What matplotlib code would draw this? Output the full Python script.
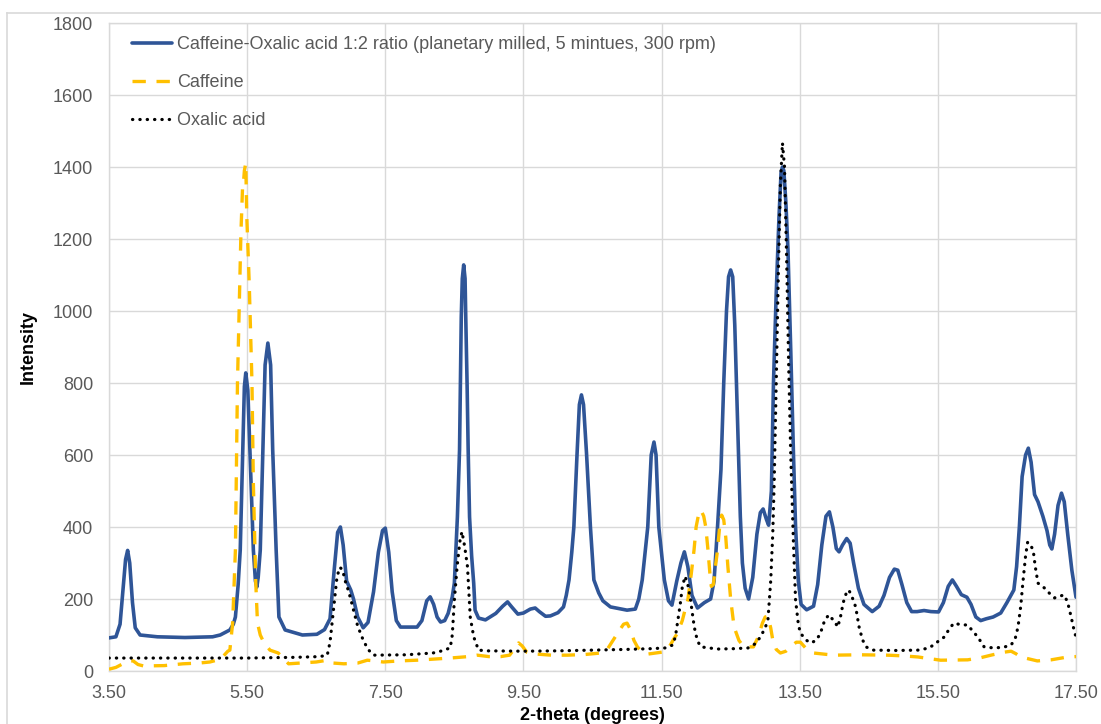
import matplotlib
matplotlib.use("Agg")
import matplotlib.pyplot as plt
from matplotlib.lines import Line2D

# ---------------- data ----------------
mix_x = [3.50, 3.60, 3.66, 3.70, 3.74, 3.77, 3.80, 3.84, 3.88, 3.95, 4.20, 4.60, 5.00, 5.11, 5.25,
         5.30, 5.33, 5.37, 5.40, 5.436, 5.46, 5.48, 5.51, 5.54, 5.59, 5.62, 5.64, 5.66, 5.69, 5.727,
         5.76, 5.80, 5.84, 5.87, 5.92, 5.96, 6.05, 6.30, 6.51, 6.62, 6.70, 6.76, 6.81, 6.85, 6.89,
         6.94, 7.00, 7.04, 7.10, 7.18, 7.25, 7.33, 7.40, 7.46, 7.50, 7.55, 7.60, 7.66, 7.72, 7.96,
         8.03, 8.10, 8.15, 8.20, 8.25, 8.30, 8.36, 8.41, 8.47, 8.50, 8.52, 8.544, 8.575, 8.587, 8.60,
         8.615, 8.635, 8.655, 8.665, 8.684, 8.70, 8.72, 8.75, 8.78, 8.80, 8.85, 8.95, 9.10, 9.20, 9.27,
         9.33, 9.42, 9.50, 9.60, 9.67, 9.73, 9.82, 9.89, 10.00, 10.08, 10.12, 10.16, 10.20, 10.23, 10.277,
         10.31, 10.34, 10.37, 10.413, 10.47, 10.52, 10.59, 10.65, 10.76, 11.00, 11.12, 11.17, 11.22, 11.30, 11.35,
         11.39, 11.42, 11.46, 11.54, 11.60, 11.65, 11.72, 11.78, 11.83, 11.88, 11.94, 12.02, 12.12, 12.21, 12.26,
         12.31, 12.36, 12.40, 12.44, 12.47, 12.50, 12.53, 12.56, 12.60, 12.64, 12.67, 12.71, 12.76, 12.82, 12.88,
         12.93, 12.97, 13.02, 13.05, 13.09, 13.12, 13.16, 13.20, 13.23, 13.25, 13.27, 13.30, 13.33, 13.37, 13.41,
         13.44, 13.48, 13.52, 13.60, 13.70, 13.76, 13.82, 13.88, 13.93, 13.98, 14.03, 14.07, 14.12, 14.18, 14.23,
         14.28, 14.35, 14.43, 14.55, 14.65, 14.72, 14.80, 14.87, 14.92, 14.98, 15.05, 15.12, 15.20, 15.30, 15.40,
         15.51, 15.58, 15.65, 15.71, 15.77, 15.84, 15.92, 15.98, 16.05, 16.12, 16.20, 16.30, 16.41, 16.50, 16.60,
         16.64, 16.68, 16.72, 16.77, 16.81, 16.85, 16.90, 16.95, 17.02, 17.08, 17.12, 17.15, 17.19, 17.24, 17.29,
         17.33, 17.38, 17.44, 17.50]
mix_y = [92, 95, 130, 220, 310, 335, 300, 190, 120, 100, 95, 93, 95, 100, 114,
         130, 150, 240, 336, 614, 790, 828, 780, 614, 336, 250, 233, 260, 336, 614,
         850, 911, 850, 614, 336, 150, 114, 100, 102, 115, 145, 280, 385, 400, 350,
         250, 225, 200, 150, 120, 135, 220, 330, 390, 397, 330, 220, 140, 122, 122,
         140, 195, 206, 185, 150, 136, 140, 160, 206, 244, 330, 428, 614, 800, 983,
         1090, 1128, 1090, 983, 800, 614, 428, 320, 244, 169, 147, 142, 160, 180, 192,
         178, 158, 161, 172, 175, 165, 152, 153, 162, 178, 210, 253, 330, 400, 606,
         740, 767, 740, 606, 400, 253, 217, 195, 178, 169, 172, 200, 253, 400, 600,
         636, 600, 400, 253, 195, 183, 250, 300, 331, 290, 210, 175, 190, 200, 250,
         400, 560, 800, 1000, 1095, 1114, 1095, 960, 700, 430, 300, 230, 200, 260, 380,
         440, 450, 420, 405, 500, 800, 1050, 1261, 1385, 1400, 1390, 1300, 1170, 892, 600,
         400, 250, 185, 170, 180, 240, 350, 430, 442, 400, 340, 331, 350, 368, 355,
         300, 230, 185, 165, 180, 210, 260, 283, 280, 240, 190, 165, 165, 168, 165,
         164, 190, 235, 253, 235, 212, 205, 185, 150, 140, 145, 150, 161, 190, 225,
         290, 400, 540, 600, 619, 580, 490, 470, 430, 390, 350, 339, 380, 460, 494,
         470, 380, 280, 205]

caf_x = [3.50, 3.60, 3.70, 3.78, 3.85, 3.92, 4.00, 4.30, 4.57, 4.80, 4.96, 5.10, 5.15, 5.22, 5.25,
         5.29, 5.33, 5.36, 5.41, 5.436, 5.45, 5.46, 5.48, 5.495, 5.53, 5.57, 5.59, 5.625, 5.65, 5.69,
         5.74, 5.83, 5.95, 6.10, 6.27, 6.50, 6.66, 6.70, 6.75, 6.90, 7.10, 7.24, 7.35, 7.47, 7.70,
         7.96, 8.20, 8.44, 8.70, 8.83, 9.00, 9.17, 9.30, 9.38, 9.43, 9.48, 9.55, 9.62, 9.90, 10.14,
         10.40, 10.62, 10.72, 10.80, 10.88, 10.95, 11.00, 11.05, 11.10, 11.15, 11.22, 11.30, 11.53, 11.62, 11.68,
         11.73, 11.80, 11.84, 11.88, 11.93, 11.97, 12.00, 12.04, 12.07, 12.11, 12.14, 12.17, 12.20, 12.22, 12.25,
         12.28, 12.31, 12.34, 12.37, 12.40, 12.43, 12.46, 12.50, 12.55, 12.62, 12.69, 12.83, 12.90, 12.96, 13.00,
         13.04, 13.08, 13.11, 13.16, 13.22, 13.30, 13.37, 13.45, 13.51, 13.58, 13.70, 13.99, 14.38, 14.77, 15.00,
         15.21, 15.54, 15.93, 16.10, 16.27, 16.45, 16.56, 16.63, 16.70, 16.94, 17.14, 17.38, 17.50]
caf_y = [5, 10, 20, 28, 28, 18, 14, 15, 20, 22, 25, 32, 40, 55, 58,
         133, 336, 800, 1217, 1356, 1364, 1390, 1411, 1261, 1078, 800, 522, 244, 133, 100,
         80, 58, 50, 20, 22, 25, 30, 28, 22, 20, 22, 30, 28, 25, 28,
         30, 33, 36, 40, 44, 40, 40, 44, 65, 78, 70, 52, 48, 44, 44,
         46, 50, 62, 86, 110, 130, 133, 115, 85, 67, 52, 47, 53, 70, 90,
         105, 140, 170, 197, 270, 336, 400, 439, 447, 430, 400, 340, 270, 235, 240,
         290, 336, 400, 433, 420, 370, 290, 200, 122, 85, 67, 67, 95, 133, 150,
         152, 120, 86, 60, 50, 55, 67, 80, 80, 65, 50, 44, 45, 44, 42,
         39, 30, 31, 36, 44, 52, 55, 48, 39, 28, 31, 39, 40]

oxa_x = [3.50, 4.50, 5.50, 6.20, 6.55, 6.66, 6.70, 6.75, 6.80, 6.84, 6.88, 6.92, 6.95, 7.00, 7.04,
         7.10, 7.18, 7.25, 7.33, 7.80, 8.19, 8.30, 8.44, 8.47, 8.50, 8.54, 8.58, 8.61, 8.65, 8.69,
         8.71, 8.73, 8.78, 8.85, 8.98, 9.50, 10.00, 10.50, 11.00, 11.34, 11.55, 11.66, 11.70, 11.73, 11.77,
         11.80, 11.84, 11.88, 11.92, 11.96, 11.99, 12.03, 12.07, 12.31, 12.55, 12.75, 12.85, 12.93, 13.00, 13.04,
         13.08, 13.11, 13.13, 13.16, 13.19, 13.22, 13.25, 13.28, 13.31, 13.34, 13.37, 13.41, 13.44, 13.48, 13.51,
         13.60, 13.66, 13.74, 13.80, 13.86, 13.92, 13.97, 14.00, 14.05, 14.09, 14.13, 14.18, 14.21, 14.25, 14.31,
         14.36, 14.41, 14.47, 14.57, 14.90, 15.21, 15.35, 15.44, 15.52, 15.59, 15.66, 15.73, 15.80, 15.87, 15.93,
         16.00, 16.08, 16.17, 16.31, 16.45, 16.56, 16.62, 16.66, 16.70, 16.73, 16.77, 16.80, 16.84, 16.88, 16.91,
         16.95, 17.04, 17.12, 17.19, 17.26, 17.33, 17.38, 17.43, 17.47, 17.50]
oxa_y = [36, 36, 36, 38, 40, 44, 80, 169, 260, 288, 282, 250, 233, 200, 169,
         125, 86, 60, 44, 45, 50, 55, 64, 100, 197, 290, 360, 387, 345, 290,
         220, 150, 95, 58, 56, 55, 56, 58, 60, 62, 64, 72, 95, 133, 185,
         233, 263, 240, 197, 140, 105, 80, 67, 61, 62, 64, 75, 94, 120, 142,
         250, 383, 520, 800, 1100, 1350, 1467, 1400, 1150, 850, 600, 350, 197, 130, 105,
         85, 78, 85, 105, 140, 156, 145, 140, 122, 150, 190, 220, 225, 210, 178,
         122, 86, 66, 58, 57, 58, 63, 72, 85, 94, 115, 133, 130, 128, 128,
         112, 94, 67, 64, 66, 72, 90, 122, 180, 244, 320, 358, 350, 336, 290,
         244, 231, 215, 203, 208, 211, 190, 150, 115, 94]

labels = ["Caffeine-Oxalic acid 1:2 ratio (planetary milled, 5 mintues, 300 rpm)",
          "Caffeine", "Oxalic acid"]
x_ticks = [3.5, 5.5, 7.5, 9.5, 11.5, 13.5, 15.5, 17.5]
y_ticks = [0, 200, 400, 600, 800, 1000, 1200, 1400, 1600, 1800]

# ---------------- style ----------------
plt.rcParams['font.family'] = ['Liberation Sans', 'DejaVu Sans']
GRID = '#D9D9D9'
TXT = '#595959'

fig = plt.figure(figsize=(11.01, 7.24), dpi=100)
W, H = 1101, 724
ax = fig.add_axes([109 / W, 1 - 671 / H, (1076 - 109) / W, (671 - 23) / H])

ax.plot(mix_x, mix_y, color='#2F5597', lw=2.6, label=labels[0], zorder=3,
        solid_joinstyle='round', solid_capstyle='round')
ax.plot(caf_x, caf_y, color='#FFC000', lw=2.4, dashes=(4, 3.2), label=labels[1], zorder=4)
ax.plot(oxa_x, oxa_y, color='#000000', lw=2.3, linestyle=(0, (0.1, 2.2)),
        dash_capstyle='round', label=labels[2], zorder=5)

ax.set_xlim(3.5, 17.5)
ax.set_ylim(0, 1800)
ax.set_xticks(x_ticks)
ax.set_xticklabels([f"{v:.2f}" for v in x_ticks])
ax.set_yticks(y_ticks)
ax.grid(True, color=GRID, lw=1.0, zorder=0)
ax.set_axisbelow(True)
for s in ax.spines.values():
    s.set_color(GRID)
    s.set_linewidth(1.0)
ax.tick_params(axis='both', length=0, labelsize=13, labelcolor=TXT)
ax.tick_params(axis='y', pad=11.5)
ax.tick_params(axis='x', pad=10)

ax.set_xlabel("2-theta (degrees)", fontsize=13, fontweight='bold', color='black', va='top')
ax.xaxis.set_label_coords(0.5, -0.056)
ax.set_ylabel("Intensity", fontsize=13, fontweight='bold', color='black')
ax.yaxis.set_label_coords(-0.075, 0.5)

leg = ax.legend(loc='upper left', bbox_to_anchor=(0.0238, 0.980), frameon=False,
                fontsize=13, handlelength=2.2, handletextpad=0.3, labelspacing=1.17,
                borderpad=0, borderaxespad=0)
for t in leg.get_texts():
    t.set_color(TXT)

# outer chart-area border (top and left edges visible)
fig.add_artist(Line2D([7 / W, 1.0], [1 - 13 / H, 1 - 13 / H], color=GRID, lw=1.2,
                      transform=fig.transFigure))
fig.add_artist(Line2D([7 / W, 7 / W], [1 - 13 / H, 0.0], color=GRID, lw=1.2,
                      transform=fig.transFigure))

fig.savefig("out.png", dpi=100)
